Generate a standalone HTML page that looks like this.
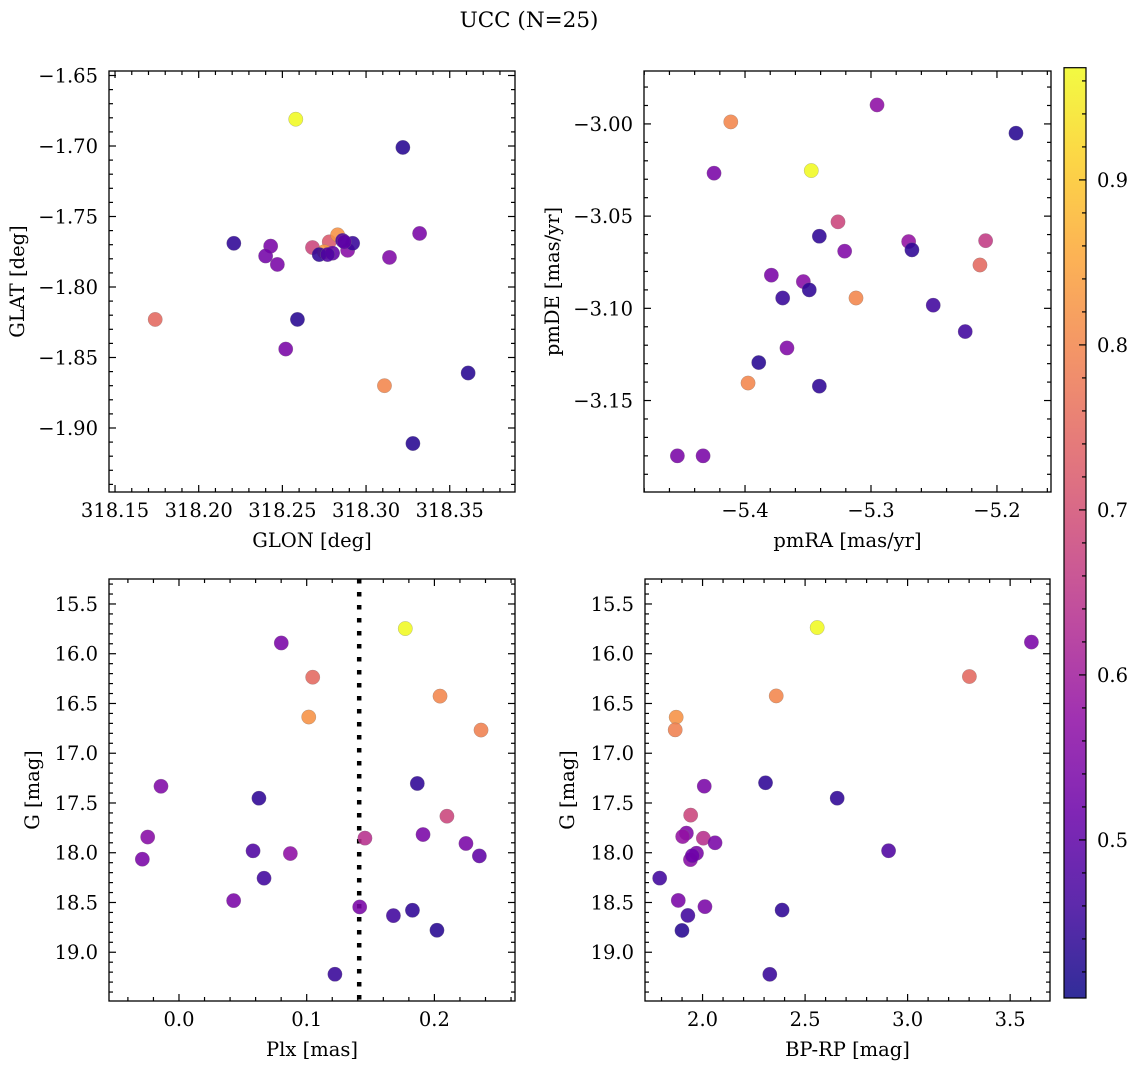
<!DOCTYPE html>
<html><head><meta charset="utf-8"><title>UCC (N=25)</title>
<style>
html,body{margin:0;padding:0;background:#fff;}
svg{display:block;font-family:"DejaVu Serif","Liberation Serif",serif;}
</style></head>
<body>
<svg id="fig" width="1136" height="1067" viewBox="0 0 1136 1067" xmlns="http://www.w3.org/2000/svg">
<text x="529" y="27" text-anchor="middle" font-size="21.5">UCC (N=25)</text>
</svg>
<script>
// ---- data (color values shared scale) ----
const glon = [318.258,318.322,318.221,318.243,318.240,318.247,318.332,318.314,318.174,318.259,318.252,318.311,318.361,318.328,318.268,318.278,318.283,318.275,318.272,318.289,318.292,318.280,318.286,318.277,318.287];
const glat = [-1.681,-1.701,-1.769,-1.771,-1.778,-1.784,-1.762,-1.779,-1.823,-1.823,-1.844,-1.870,-1.861,-1.911,-1.772,-1.768,-1.763,-1.775,-1.777,-1.774,-1.769,-1.776,-1.767,-1.777,-1.768];
const cTop1 = [0.968,0.43,0.44,0.54,0.53,0.54,0.54,0.55,0.75,0.43,0.54,0.80,0.43,0.43,0.68,0.72,0.82,0.83,0.44,0.56,0.45,0.50,0.47,0.48,0.50];

const pmra = [-5.2952,-5.1849,-5.4113,-5.4246,-5.3474,-5.3262,-5.3410,-5.3209,-5.2701,-5.2675,-5.2090,-5.2135,-5.3791,-5.3537,-5.3490,-5.3701,-5.3119,-5.2506,-5.2252,-5.3667,-5.3891,-5.3410,-5.3976,-5.4537,-5.4333];
const pmde = [-2.9897,-3.0050,-2.9989,-3.0267,-3.0253,-3.0531,-3.0609,-3.0690,-3.0638,-3.0683,-3.0633,-3.0765,-3.0820,-3.0855,-3.0900,-3.0944,-3.0944,-3.0983,-3.1126,-3.1215,-3.1294,-3.1422,-3.1405,-3.1800,-3.1800];
const cTop2 = [0.57,0.43,0.80,0.54,0.968,0.68,0.44,0.55,0.58,0.44,0.66,0.75,0.54,0.56,0.44,0.45,0.80,0.46,0.46,0.55,0.43,0.44,0.80,0.54,0.54];

const plx = [0.1772,0.0801,0.1047,0.2044,0.1016,0.2365,-0.0141,0.0626,0.1866,0.2098,-0.0245,0.1911,0.1456,0.2247,0.0580,0.0872,-0.0287,0.2352,0.0666,0.0428,0.1415,0.1679,0.1828,0.2020,0.1221];
const gmag3 = [15.747,15.892,16.236,16.426,16.636,16.767,17.332,17.452,17.304,17.633,17.842,17.817,17.853,17.907,17.981,18.008,18.065,18.032,18.256,18.481,18.545,18.632,18.578,18.779,19.221];
const cBot1 = [0.968,0.54,0.75,0.80,0.82,0.79,0.55,0.44,0.44,0.68,0.56,0.54,0.64,0.54,0.48,0.57,0.54,0.50,0.46,0.54,0.54,0.46,0.44,0.43,0.45];
const plxCut = [0.1411];

const bprp = [2.5590,3.6038,3.3013,2.3592,1.8713,1.8665,2.0083,2.3071,2.6565,1.9420,1.9211,1.9031,2.0039,2.0609,2.9072,1.9703,1.9410,1.7909,1.8816,2.0117,2.3879,1.9284,1.8996,2.3279,1.9500];
const gmag4 = [15.737,15.883,16.229,16.424,16.638,16.765,17.331,17.297,17.452,17.622,17.803,17.837,17.854,17.900,17.980,18.005,18.069,18.255,18.479,18.542,18.576,18.630,18.781,19.222,18.030];
const cBot2 = [0.968,0.54,0.75,0.80,0.82,0.79,0.54,0.44,0.44,0.68,0.55,0.58,0.64,0.54,0.48,0.54,0.56,0.46,0.54,0.54,0.44,0.46,0.43,0.45,0.52];

const cbTicks = [0.5,0.6,0.7,0.8,0.9];
const cMin = 0.4042, cMax = 0.968;

// ---- helpers ----
const NS = "http://www.w3.org/2000/svg";
const svg = document.getElementById('fig');
const FS = 19.5;
function mk(tag, attrs, parent){
  const e = document.createElementNS(NS, tag);
  for (const k in attrs) e.setAttribute(k, attrs[k]);
  (parent||svg).appendChild(e);
  return e;
}
const plasma = ["#0d0887","#41049d","#6a00a8","#8f0da4","#b12a90","#cc4778","#e16462","#f2844b","#fca636","#fcce25","#f0f921"];
function hex2rgb(h){return [parseInt(h.substr(1,2),16),parseInt(h.substr(3,2),16),parseInt(h.substr(5,2),16)];}
function cmap(v){
  let t = (v-cMin)/(cMax-cMin); t = Math.max(0,Math.min(1,t));
  const f = t*10, i = Math.min(9,Math.floor(f)), r = f-i;
  const a = hex2rgb(plasma[i]), b = hex2rgb(plasma[i+1]);
  return "rgb("+a.map((x,j)=>Math.round(x+(b[j]-x)*r)).join(",")+")";
}
function fmt(v,d){ const s = Math.abs(v).toFixed(d); return (v < -1e-9 ? "\u2212" : "") + s; }

function panel(cfg){
  const g = mk('g', {});
  
  
  const sx = v => cfg.x0 + (v-cfg.xmin)/(cfg.xmax-cfg.xmin)*(cfg.x1-cfg.x0);
  const sy = cfg.yinv
    ? (v => cfg.y0 + (v-cfg.ytop)/(cfg.ybot-cfg.ytop)*(cfg.y1-cfg.y0))
    : (v => cfg.y1 - (v-cfg.ybot)/(cfg.ytop-cfg.ybot)*(cfg.y1-cfg.y0));
  const tg = mk('g', {stroke:'#000','stroke-width':1.2}, g);
  
  
  const xlo = Math.min(cfg.xmin,cfg.xmax), xhi = Math.max(cfg.xmin,cfg.xmax);
  const start = Math.ceil(xlo/cfg.xminor - 1e-6);
  for (let k = start; k*cfg.xminor <= xhi + 1e-9; k++){
    const v = k*cfg.xminor, x = sx(v);
    const isMaj = Math.abs(v/cfg.xmajor - Math.round(v/cfg.xmajor)) < 1e-4;
    const L = isMaj ? 7 : 4;
    mk('line',{x1:x,x2:x,y1:cfg.y1,y2:cfg.y1-L},tg);
    mk('line',{x1:x,x2:x,y1:cfg.y0,y2:cfg.y0+L},tg);
    if (isMaj){
      const t = mk('text',{x:x,y:cfg.y1+25,'text-anchor':'middle','font-size':FS,stroke:'none',fill:'#000'},g);
      
      
      t.textContent = fmt(v,cfg.xdec);
    }
  }
  const ylo = Math.min(cfg.ytop,cfg.ybot), yhi = Math.max(cfg.ytop,cfg.ybot);
  const ys = Math.ceil(ylo/cfg.yminor - 1e-6);
  for (let k = ys; k*cfg.yminor <= yhi + 1e-9; k++){
    const v = k*cfg.yminor, y = sy(v);
    const isMaj = Math.abs(v/cfg.ymajor - Math.round(v/cfg.ymajor)) < 1e-4;
    const L = isMaj ? 7 : 4;
    mk('line',{x1:cfg.x0,x2:cfg.x0+L,y1:y,y2:y},tg);
    mk('line',{x1:cfg.x1,x2:cfg.x1-L,y1:y,y2:y},tg);
    if (isMaj){
      const t = mk('text',{x:cfg.x0-11,y:y+7,'text-anchor':'end','font-size':FS,fill:'#000'},g);
      
      
      t.textContent = fmt(v,cfg.ydec);
    }
  }
  if (cfg.vline){
    cfg.vline.forEach(v=>{
      const l = mk('line',{x1:sx(v),x2:sx(v),y1:cfg.y0,y2:cfg.y1,stroke:'#000','stroke-width':4.5,'stroke-dasharray':'4.5 8.5'},g);
      
      
    });
  }
  const pg = mk('g',{},g);
  
  
  for (let i=0;i<cfg.xs.length;i++){
    const c = mk('circle',{cx:sx(cfg.xs[i]),cy:sy(cfg.ys[i]),r:7.2,fill:cmap(cfg.cs[i]),'fill-opacity':0.88,stroke:'#777','stroke-opacity':0.5,'stroke-width':0.5},pg);
    
    
  }
  const fr = mk('rect',{x:cfg.x0,y:cfg.y0,width:cfg.x1-cfg.x0,height:cfg.y1-cfg.y0,fill:'none',stroke:'#000','stroke-width':1.3},g);
  
  
  const xl = mk('text',{x:(cfg.x0+cfg.x1)/2,y:cfg.y1+55,'text-anchor':'middle','font-size':FS},g);
  
  
  xl.textContent = cfg.xlabel;
  const yx = cfg.ylx, yy = (cfg.y0+cfg.y1)/2;
  const yl = mk('text',{x:yx,y:yy,'text-anchor':'middle','font-size':FS,transform:'rotate(-90 '+yx+' '+yy+')'},g);
  
  
  yl.textContent = cfg.ylabel;
}

panel({name:'glon-glat-panel',x0:109,x1:515,y0:71,y1:492,xmin:318.1464,xmax:318.389,ytop:-1.6468,ybot:-1.9454,yinv:false,
  xmajor:0.05,xminor:0.01,ymajor:0.05,yminor:0.01,xdec:2,ydec:2,xs:glon,ys:glat,cs:cTop1,xlabel:'GLON [deg]',ylabel:'GLAT [deg]',ylx:24});
panel({name:'pm-panel',x0:644,x1:1051,y0:71,y1:492,xmin:-5.4802,xmax:-5.1571,ytop:-2.9713,ybot:-3.1996,yinv:false,
  xmajor:0.1,xminor:0.02,ymajor:0.05,yminor:0.01,xdec:1,ydec:2,xs:pmra,ys:pmde,cs:cTop2,xlabel:'pmRA [mas/yr]',ylabel:'pmDE [mas/yr]',ylx:559});
panel({name:'plx-g-panel',x0:109,x1:515,y0:579,y1:1001,xmin:-0.0548,xmax:0.2631,ytop:15.249,ybot:19.490,yinv:true,
  xmajor:0.1,xminor:0.02,ymajor:0.5,yminor:0.1,xdec:1,ydec:1,xs:plx,ys:gmag3,cs:cBot1,xlabel:'Plx [mas]',ylabel:'G [mag]',ylx:39,vline:plxCut});
panel({name:'cmd-panel',x0:645,x1:1050,y0:579,y1:1001,xmin:1.7193,xmax:3.6944,ytop:15.249,ybot:19.490,yinv:true,
  xmajor:0.5,xminor:0.1,ymajor:0.5,yminor:0.1,xdec:1,ydec:1,xs:bprp,ys:gmag4,cs:cBot2,xlabel:'BP-RP [mag]',ylabel:'G [mag]',ylx:574});

// ---- colorbar ----
(function(){
  const x0=1064,x1=1086,y0=67.7,y1=998;
  const g = mk('g',{});
  
  
  const defs = mk('defs',{},g);
  const lg = mk('linearGradient',{id:'cbg',x1:0,y1:1,x2:0,y2:0},defs);
  for (let i=0;i<=20;i++){
    const v = cMin + (cMax-cMin)*i/20;
    mk('stop',{offset:(i/20),'stop-color':cmap(v),'stop-opacity':0.85},lg);
  }
  const r = mk('rect',{x:x0,y:y0,width:x1-x0,height:y1-y0,fill:'url(#cbg)',stroke:'#000','stroke-width':1.2},g);
  
  
  const sc = v => y1 - (v-cMin)/(cMax-cMin)*(y1-y0);
  for (let k=Math.ceil(cMin/0.02);k*0.02<=cMax;k++){
    const v=k*0.02, y=sc(v);
    const maj = Math.abs(v*10-Math.round(v*10))<1e-6;
    mk('line',{x1:x1,x2:x1-(maj?7:4),y1:y,y2:y,stroke:'#000','stroke-width':1.2},g);
  }
  cbTicks.forEach(v=>{
    const t = mk('text',{x:x1+11,y:sc(v)+7,'font-size':FS},g);
    
    
    t.textContent = v.toFixed(1);
  });
})();
</script>
</body></html>
